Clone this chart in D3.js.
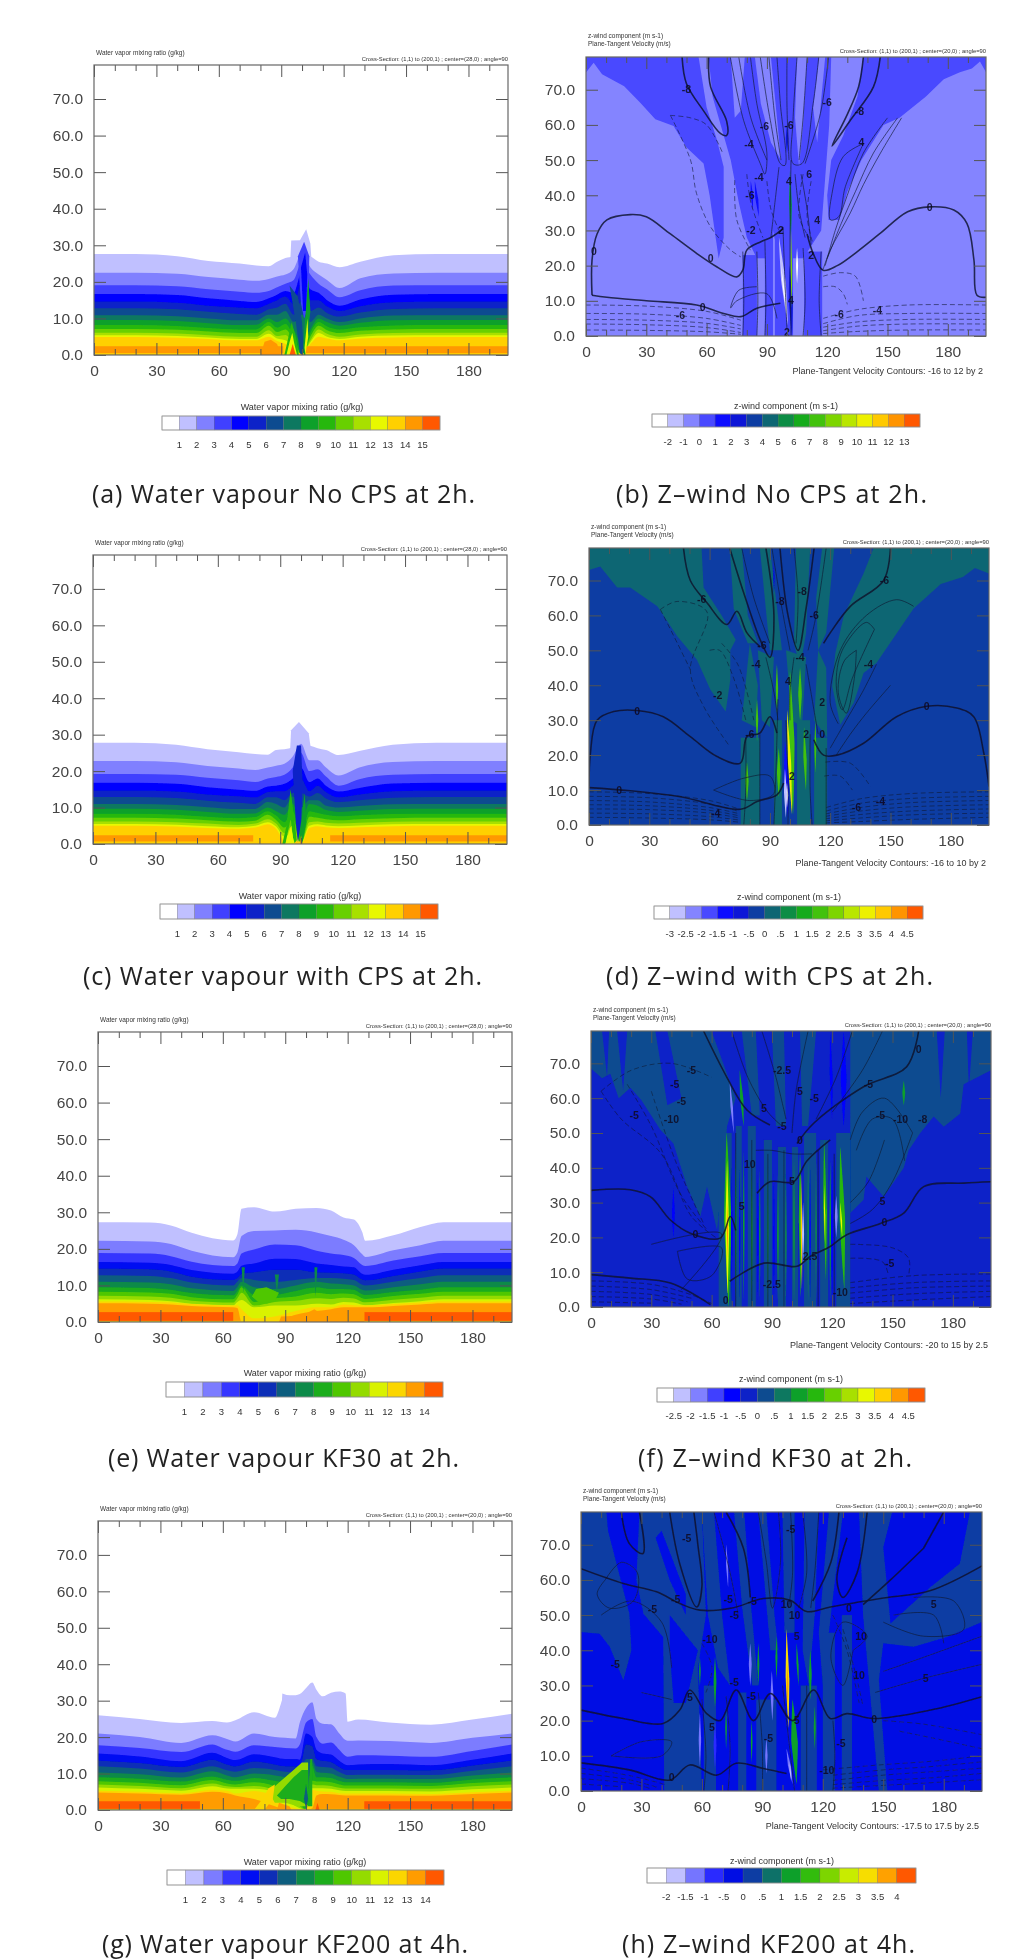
<!DOCTYPE html>
<html>
<head>
<meta charset="utf-8">
<script src="https://cdn.jsdelivr.net/npm/d3@7"></script>
<style>
  html, body { margin: 0; padding: 0; background: #fff; }
  text { font-family: "Liberation Sans", Arial, sans-serif; }
  .caption { font-family: "Open Sans", "Noto Sans", sans-serif; font-size: 25px; fill: #222; }
</style>
</head>
<body>
<div id="chart"></div>
<script>
// colour ramp anchors, first cell of every bar is white
var rampColors = ["#c0c0ff","#8080ff","#4040ff","#0000ff","#0a20c8","#084c90","#0a7860","#0aa02c","#28b810","#68d000","#a8e000","#e8f800","#ffd000","#ff9800","#ff5800"];

var xMajor = [0,30,60,90,120,150,180];
var xMinor = [10,20,40,50,70,80,100,110,130,140,160,170,190];
var yMajor = [0,10,20,30,40,50,60,70];

var ticksA = ["1","2","3","4","5","6","7","8","9","10","11","12","13","14","15"];
var ticksE = ["1","2","3","4","5","6","7","8","9","10","11","12","13","14"];
var ticksB = ["-2","-1","0","1","2","3","4","5","6","7","8","9","10","11","12","13"];
var ticksD = ["-3","-2.5","-2","-1.5","-1","-.5","0",".5","1","1.5","2","2.5","3","3.5","4","4.5"];
var ticksF = ["-2.5","-2","-1.5","-1","-.5","0",".5","1","1.5","2","2.5","3","3.5","4","4.5"];
var ticksH = ["-2","-1.5","-1","-.5","0",".5","1","1.5","2","2.5","3","3.5","4"];

// water vapour: height of each mixing ratio boundary at the stations
var stationsAC = [0,20,40,55,70,78,84,88,92,96,100,104,108,112,118,128,144,165,199];
var levelsA = [
  [27.6,27.6,27,25.7,25,24.5,24.3,25.5,26.5,27,28,27,25.5,25,24,25.5,27.3,27.6,27.6],
  [22.5,22.5,22.2,21.3,20.6,20.3,20.8,21.5,22,23.5,28,24,22,20.5,18.3,21,22.3,22.5,22.5],
  [19.1,19.1,18.8,18,17.3,17,17.5,18.5,19.5,20.5,25.5,22,19.5,18,15.8,17.7,19,19.1,19.1],
  [16.7,16.7,16.4,15.5,14.8,14.5,15.5,16.5,17.5,17,23,18,17,15,13.5,15.2,16.5,16.7,16.7],
  [14.6,14.6,14.3,13.5,13,12.8,14,15,16,14,20,15,15,13.3,12,13.3,14.4,14.6,14.6],
  [12.8,12.8,12.5,11.8,11.2,11,12.5,13,14,11,15,12,13,11.5,10.5,11.6,12.6,12.8,12.8],
  [10.9,10.9,10.6,10,9.5,9.5,11,11,12,9,11,9,11,10,9,10,10.8,10.9,10.9],
  [9.6,9.6,9.3,8.7,8.2,8.3,10,9,10,7,3,7,10,9,8,8.8,9.5,9.6,9.6],
  [8.2,8.2,7.9,7.4,7,7,9,7.5,8.5,5,0,6,9,7.8,7,7.6,8.1,8.2,8.2],
  [7.1,7.1,6.9,6.4,6,6,8,6.3,7,4,0,5,8,6.8,6,6.6,7,7.1,7.1],
  [6.1,6.1,5.9,5.4,5,5,6.8,5.2,5.5,3,0,4,7,5.8,5,5.6,6,6.1,6.1],
  [5.4,5.4,5.2,4.8,4.4,4.4,5.8,4.5,4,2,0,3.5,6,5,4.4,5,5.3,5.4,5.4],
  [4.9,4.9,4.7,4.4,4,4,5,3.8,3,1,0,3,5,4.5,4,4.5,4.8,4.9,4.9]
];
var levelsC = [
  [27.8,27.8,27.2,26,25.2,24.7,24.5,25.8,26,26.5,27.5,27,26.3,25.8,24.4,25.5,27.2,27.8,27.8],
  [22.8,22.8,22.4,21.4,20.7,20.3,21,21.5,22,24,27.5,23,23,21,18.8,21,22.5,22.8,22.8],
  [19.2,19.2,19,18.2,17.5,17,18,18.4,19,21,25,20,20.5,18.5,16,17.8,19,19.2,19.2],
  [16.8,16.8,16.5,15.6,14.9,14.6,15.8,16,16.5,18,21,17,18,16,14.4,15.4,16.6,16.8,16.8],
  [14.7,14.7,14.4,13.6,13.1,12.8,14.3,14.5,14.5,16,18,14.5,16,14.3,12.8,13.6,14.5,14.7,14.7],
  [12.9,12.9,12.6,11.9,11.3,11,12.8,12.8,12,14,14,13,14,12.5,11.5,12,12.7,12.9,12.9],
  [11,11,10.7,10.1,9.6,9.6,11.5,11,10,13,10,12,12,10.5,10,10.4,10.9,11,11],
  [9.7,9.7,9.4,8.8,8.3,8.4,10,9,8,11,6,11,10.5,9.3,8.8,9.1,9.6,9.7,9.7],
  [8.3,8.3,8,7.5,7.1,7.4,9,7.8,6,9,2,9,8.5,8,7.6,7.9,8.2,8.3,8.3],
  [7.2,7.2,7,6.5,6.1,6.4,8,6.6,4.5,7,0,7.5,7.2,6.8,6.5,6.8,7.1,7.2,7.2],
  [6.2,6.2,6,5.6,5.2,5.6,6.8,5.6,3,5,0,6,6.2,5.8,5.6,5.8,6.1,6.2,6.2],
  [5.5,5.5,5.3,4.9,4.6,5,6,4.8,2,3,0,5,5.4,5.1,4.9,5.1,5.4,5.5,5.5],
  [5,5,4.8,4.4,4.2,4.5,5.4,4.2,1,1.5,0,4.4,4.9,4.6,4.4,4.6,4.9,5,5]
];
var stationsE = [0,25,35,45,65,67,69,75,85,95,105,112,118,123,127,128.5,142,155,166,199];
var levelsE = [
  [27.3,27.2,26.4,24.4,22.3,24,31,31.4,30.2,31,31.2,30.5,28.6,28,24.6,22.2,23.7,26,27.3,27.3],
  [22.2,22,21.3,19.5,17.7,19,23.5,24.9,25,25.2,24.5,23.5,22.5,21,18.5,17.8,19.6,21,22.2,22.2],
  [18.9,18.7,18,16.5,15.3,16,18.7,19.8,21.2,21,19.5,18.7,18.3,17.5,15.6,15.3,16.8,18,18.9,18.9],
  [16.4,16.2,15.6,14.2,13.2,13.8,15.4,16,17.3,17.2,16,15.6,15.2,15,13.2,12.9,14.3,15.5,16.4,16.4],
  [14.6,14.4,13.8,12.4,11.5,12,13.2,13.6,14.3,14.3,13.6,13.5,13.3,13,11.6,11.4,12.6,13.8,14.6,14.6],
  [12.8,12.6,12,10.8,10,11,12,11.5,11,11.5,12,12,11.8,11.5,10.2,10,11,12,12.8,12.8],
  [11,10.8,10.3,9.2,8.5,9.6,11,9.5,9,10,11,10.5,10.3,10,8.8,8.6,9.5,10.3,11,11],
  [9.5,9.3,8.8,7.9,7.3,8.5,10,7.5,7.5,8.5,9.5,9,9,8.8,7.6,7.4,8.2,8.8,9.5,9.5],
  [8.3,8.1,7.7,6.8,6.2,7.5,9.5,5.5,6.5,7,8,7.6,7.8,7.6,6.5,6.3,7.1,7.7,8.3,8.3],
  [7.2,7,6.6,5.8,5.3,6.5,8,4.5,5.5,5.8,6.5,6.3,6.6,6.4,5.5,5.4,6.1,6.6,7.2,7.2],
  [6.2,6,5.7,5,4.6,5.5,6,4,4.5,4.5,5,4.8,5.5,5.3,4.7,4.6,5.2,5.7,6.2,6.2],
  [5.6,5.5,5.3,4.9,4.5,4.6,3.5,1,1.5,3,4,4,4.8,4.6,4.5,4.5,4.9,5.3,5.6,5.6],
  [5.1,5,4.8,4.4,4,3.8,0,0,0,2,3,3.5,4,4,4,4,4.4,4.8,5.1,5.1]
];
var stationsG = [0,20,40,55,62,66,75,85,90,95,97,100,103,105,108,112,116,119,120,125,140,160,180,199];
var levelsG = [
  [26,25,23.9,24.4,24,24.6,26.8,25.3,31.5,31.5,31.8,33.5,35,33,31.2,32.2,32.5,32,24.2,24.8,24,23.4,24.8,26.4],
  [21,20,18.4,20.5,19.5,18.8,21,20,19.8,19.6,24,28,29.6,25,23.7,23.5,21,19.2,19,19.1,18.9,18.4,19.8,21],
  [17.8,17,15.9,18,16.5,16,17.8,17.3,17,16.9,18,24,25,20,18.2,18.5,16.5,14.8,14.6,15,14.9,14.6,16.2,18],
  [15.5,14.7,13.4,15.7,14.3,13.7,15.3,14.5,14,14,13.8,21,20,16.5,15.5,15.2,13.5,12.4,12.3,12.5,12.6,12.3,13.8,15.5],
  [13.6,12.9,11.8,13.8,12.5,12,13.3,12.5,12,12,12,18,17.5,14,13.5,13.2,11.8,11,11,11,11,10.9,12.2,13.6],
  [12,11.4,10.3,12,10.9,10.5,11.5,11,10.5,10.2,10,14,14,12,11.8,11.6,10.4,9.7,9.6,9.7,9.7,9.6,10.8,12],
  [10.3,9.8,8.9,10.6,9.5,9,10,9.5,9,8.5,8,5,13,10.5,10.2,10,9.1,8.6,8.5,8.6,8.6,8.5,9.5,10.3],
  [9,8.6,7.8,9.2,8.3,8,8.8,8,7.5,7,6,2,12,9,9,8.8,8,7.6,7.6,7.6,7.6,7.5,8.4,9],
  [7.9,7.5,6.8,8.2,7.3,7,7.6,6.5,5,3,2,0,8,7.8,7.8,7.6,7,6.7,6.7,6.7,6.7,6.6,7.4,7.9],
  [7,6.6,6,7.3,6.5,6.3,6.6,5.5,4,2,1,0,7,6.8,6.8,6.6,6.1,5.9,5.9,5.9,5.9,5.8,6.5,7],
  [6.2,5.8,5.3,6.5,5.9,5.8,5.8,5,3,1,0.5,0,6,6,6,5.8,5.4,5.2,5.2,5.2,5.2,5.1,5.7,6.2],
  [5.3,5,4.6,5.5,5.3,4.5,5.2,3.5,1,0.5,0,0,5.5,5.3,5.1,5,4.6,4.5,4.5,4.5,4.5,4.4,4.9,5.3],
  [4.8,4.5,4.2,5,4.6,4,3,1,0,0,0,0,0.5,4,4.4,4.3,4.1,4,4,4,4,3.9,4.4,4.8]
];

// lavender crest that sits behind all bands, [cell, [x,y], ...]
var crestA = [[1,[94.2,24],[94.8,31.3],[99,31.4],[102,34.4],[104,30.5],[104.8,24]]];
var crestC = [[1,[94.6,24],[95.2,31.2],[99,33.5],[103.7,30.4],[105.2,24]]];
var crestE = [];
var crestG = [[1,[88,26],[88.6,32],[91,31.5],[94,31],[92,26]]];

// low hot layer: cell, from x, to x, top height
var hotA = [[14,0,91,2.4],[14,101,199,2.4],[13,0,199,0.5]];
var hotC = [[14,0,77,2.4],[14,114,199,2.4],[13,0,199,0.7]];
var hotE = [[14,0,65,2.7],[14,128,199,2.7],[12,0,199,0.3]];
var hotG = [[14,0,49,2.4],[14,128,199,2.4],[12,0,199,0.3]];

// [cell, [x,y], ...] patches on top of the layered bands
var patchesA = [
  [14,[80,0],[82,3.6],[85,4.2],[88,3],[90,0]],
  [9,[91.5,0],[93.5,5],[95,9],[97,5],[98.5,0],[97,0],[95,4],[93,0]],
  [12,[92.5,0],[94,3.5],[95.3,6],[96.3,3],[97.6,0],[96.6,0],[95.4,2],[94,0]],
  [15,[94,0],[95.5,3],[97,0]],
  [6,[94,19],[98,16],[100,9],[100.8,1],[100,0],[99,0.5],[97,9]],
  [3,[98,27],[101,31],[103.5,27],[103,13],[101,10],[99.5,14]],
  [4,[99.5,24],[101.5,28],[102.5,22],[102,12],[100.5,12]],
  [8,[101,6],[103,21],[104,12],[101.6,0],[100.8,0]],
  [12,[101.2,2],[102.6,10],[103,5],[101.6,0]]
];
var patchesC = [
  [9,[91,0],[93,5],[95,15],[96.5,8],[98,1],[96.5,0],[95,7],[92.5,0]],
  [12,[92.5,0],[94,3],[95.3,5],[96,2],[97,0]],
  [5,[96,20],[98,27],[100,27],[100.8,16],[100,6],[98.5,0.5],[97.5,6]],
  [8,[99.5,0],[100.8,10],[101.8,14],[102.5,6],[100.5,0]],
  [14,[99.5,0],[100,2.5],[100.6,0]]
];
var patchesE = [
  [9,[74,7],[77,5.5],[81,5],[85,5.8],[87,8],[81,9.5],[76,9]],
  [13,[87,0],[88,1.5],[98,1.8],[104,3.5],[108,2],[128,2.7],[128,0]],
  [7,[85,13],[86,8],[87,13]],
  [7,[104,15],[104.5,7],[105.5,15]],
  [7,[69,15],[69.8,8],[70.6,15]]
];
var patchesG = [
  [13,[86,0],[87,2],[92,1],[93,0]],
  [10,[82,5],[88,8],[94,11],[98,13],[101,13],[101,1],[96,1],[90,2],[85,2]],
  [8,[86,4],[90,6.5],[94,9],[98,11],[101,11],[101.5,1],[97,2.5],[92,3],[88,3]],
  [6,[99,3],[100,7],[101,3],[100,0.5]],
  [12,[75,0],[79,3],[82,6],[85,7],[84,3],[80,0]],
  [8,[101,1],[102,14],[103,14],[103,1]],
  [14,[104.5,0],[105.5,2],[106.5,0]]
];

// z-wind filled regions, [cell, [x,y], ...]
var regionsB = [
  [3,[0,74.9],[3.8,77.7],[8,74.4],[19,71],[27,66.3],[34.5,61.6],[43.6,59.7],[50,53.6],[58.5,49],[61.5,40],[64,30],[66,22],[68.5,28],[68.5,48],[65,56],[60,65],[56,79.3],[0,79.3]],
  [3,[61,79.3],[63,68],[68,58],[72,50],[76,38],[80,28],[85,22],[108,22],[117,30],[119,45],[121,60],[122,79.3]],
  [3,[120.7,33],[126,33],[130,41],[137,50],[148,60],[156,62],[169,68],[178,73],[186,75],[192,76],[196,78],[199,75],[199,79.3],[138,79.3],[135,68],[128,57],[122,50],[120,40]],
  [2,[72,79.3],[79,79.3],[77,64],[74,62]],
  [2,[84,79.3],[92,79.3],[95,62],[97,50],[92,55],[87,66]],
  [2,[105,79.3],[110,79.3],[108,60],[106,48],[104,62]],
  [2,[116,79.3],[119,79.3],[115,55],[113,65]],
  [2,[85,0],[89,0],[89,22],[85,22]],
  [2,[93,0],[94,0],[96,22],[93,30]],
  [2,[103,0],[108.5,0],[108.5,22],[103,22]]
];
var barsB = [[3,78,85,0,23],[3,89,93,0,28],[3,94,103,0,30],[3,108.5,117.5,0,24]];
var streaksB = [
  [5,101.3,20,102.5,0,1],[1,96,28,100.5,3,1.1],[0,97,20,100,6,0.35],[0,105,25,105,15,0.5],
  [8,101.5,47,102,28,0.7],[11,102,30,102.4,8,0.4],[5,100,60,100,52,0.6],[4,84,44,86,34,0.7],[4,82,44,83,36,0.6]
];
var regionsD = [
  [7,[0,73],[5.6,74],[14,68],[20.5,68],[34,62.6],[44,54],[53.7,47.3],[60.4,38.7],[68,32.5],[70.3,41.6],[70.3,50],[73,53],[66,60],[57,68],[56,79.3],[0,79.3]],
  [7,[70,79.3],[76,79.3],[79,60],[84,52],[79,52],[72,62]],
  [7,[85,79.3],[90,79.3],[94,60],[96,50],[90,50]],
  [7,[103,79.3],[110,79.3],[108,55],[105,45],[102,52]],
  [7,[116,79.3],[122,79.3],[118,55],[114,50],[113,65]],
  [7,[141.6,79.3],[136.6,72],[126.7,59.8],[122.5,49],[121,39.7],[125,28.7],[131.7,35],[136.6,43.5],[143,46.4],[161.5,62],[175,69],[186,71],[192,73.6],[199,72],[199,79.3]],
  [7,[84,50],[92,48],[90,28],[86,30]],
  [7,[98,50],[108,48],[106,28],[101,30]],
  [7,[112,30],[114,50],[118,45],[118.5,25]],
  [7,[76,30],[80,52],[84,40],[83,28]]
];
var barsD = [[7,75.5,85,0,25],[7,92,96,0,30],[7,103.5,110,0,30],[7,112,118.5,0,25]];
var streaksD = [
  [10,78.6,18,78.6,7,0.8],[10,83.6,36,83.6,24,0.6],[10,93.5,46,93.5,32,0.6],[10,94.4,22,94.4,8,0.9],
  [10,105,45,105,30,0.9],[10,107,28,108,10,0.8],[10,112.6,30,112.6,15,0.5],
  [10,100,44,101.5,3,1.5],[4,97.5,24,99,2,1.3],[13,98.5,33,101,3,0.8],[0,98.5,12,98.5,5,0.6],[1,97.5,16,98,2,0.7],
  [5,92,76,92,66,0.4]
];
var regionsF = [
  [6,[0,68.5],[5.5,65.7],[9.6,67],[13.8,60],[19.6,63],[25,59.5],[34.5,50.9],[41,47],[47.8,34.6],[54.4,26],[57.7,34.6],[62.7,22],[66,40],[67.7,52],[72,60],[60,79.3],[0,79.3]],
  [5,[5.5,79.3],[9,79.3],[8,66]],
  [5,[13,79.3],[18,79.3],[16,62]],
  [5,[32,79.3],[38,79.3],[45,60],[38,58]],
  [6,[75,79.3],[82,79.3],[84,55],[80,55]],
  [6,[90,79.3],[96,79.3],[97,52],[92,52]],
  [6,[104,79.3],[112,79.3],[108,52],[105,52]],
  [6,[129,52.8],[129,27],[135.6,30.8],[137,37.5],[145.6,31.7],[155.6,40],[158,45],[163.8,50],[170.5,54.7],[175.5,51.8],[183.7,55.6],[185.4,64],[199,68],[199,79.3],[129,79.3]],
  [5,[172,79.3],[176,79.3],[174,60]],
  [5,[187,79.3],[190,79.3],[188,62]]
];
var barsF = [[6,63.5,70,0,50],[6,72,75,0,52],[6,78,82,0,52],[6,86,90,0,48],[6,93,97,0,46],[6,100,103,0,46],[6,106,112,0,50],[6,114,118,0,48],[6,122,129,0,50]];
var streaksF = [
  [9,67.5,50,68.5,0,1.8],[12,67.7,42,68,4,0.9],[14,67.8,30,68,14,0.3],
  [9,104,45,104.5,3,0.8],[13,104.5,38,105,5,0.4],[1,105.5,30,105.5,12,0.5],
  [9,116,48,117,8,0.9],[12,116,35,116.5,18,0.3],[9,124,46,126,5,1.4],[12,124,30,125,20,0.4],[2,122,32,122,20,0.7],
  [4,125.7,79,125.7,52,1.4],[4,119,79,120,54,0.7],[2,69,65,71,50,0.6],[4,41,34,41,20,0.7],[8,155.6,65,155.6,58,0.7],[8,74,68,76,52,0.8],
  [8,72,45,72,2,0.4],[8,76,45,76,2,0.4],[8,80,40,80,2,0.4],[8,84,40,84,2,0.3],[8,88,40,88,2,0.3],[8,93,38,93,2,0.4],[8,97,38,97,2,0.3],[8,101,42,101,2,0.4],[8,108,42,108,2,0.3],[8,112,42,112,2,0.3],[8,119,42,119,2,0.4],
  [4,70,40,70,2,0.4],[4,74,40,74,2,0.4],[4,83,38,83,2,0.4],[4,91,38,91,2,0.4],[4,109,40,109,2,0.4],[4,120,42,120,2,0.6]
];
var regionsH = [
  [5,[0,79.3],[12.6,79.3],[13.4,74],[24,50.4],[25,40],[21,31.5],[14.3,41],[9.3,44.7],[0,45.2]],
  [5,[29,79.3],[27.5,60],[31,50.4],[40.8,43.8],[41.3,0],[60,0],[58,35],[62,50],[60,79.3]],
  [4,[44,50],[58,40],[52,25],[46,25],[44,40]],
  [4,[37,72],[44,60],[52,50],[52,56],[44,68],[40,74]],
  [5,[60,79.3],[66,79.3],[70,50],[74,30],[68,35],[63,50]],
  [5,[76,79.3],[81,79.3],[84,55],[88,30],[85,30],[80,52]],
  [5,[88,79.3],[92,79.3],[96,50],[98,40],[94,40]],
  [5,[100,79.3],[106,79.3],[106,45],[101,45]],
  [5,[111,79.3],[118,79.3],[116,50],[113,30],[110,40]],
  [5,[123,79.3],[130,79.3],[124,50],[120,30],[118,45]],
  [5,[152,0],[147.8,31.5],[150,42],[165,41],[181.6,43.8],[199,48],[199,79.3],[193,79.3],[188,64.6],[173.5,58],[153.6,47.6],[150,69.3],[154.4,79.3],[138,79.3],[140,50],[147.8,0]]
];
var barsH = [[5,61,67,0,30],[5,78,82,0,28],[5,87,97,0,26],[5,109,117,0,30],[5,120,126,0,45],[5,129.5,134.5,0,50]];
var streaksH = [
  [2,59,22,59,7,0.6],[3,66.5,20,66.5,6,0.7],[2,84,42,84,30,0.7],[2,72,70,73,58,0.5],[2,94.7,34,95,20,0.7],[2,92,15,92,5,0.6],
  [7,59,38,59,30,0.4],[7,66.5,38,66.5,24,0.7],[7,72,24,72,12,0.4],[7,84.7,20,84.7,8,0.4],[7,88,42,88,30,0.5],[7,97,44,97,32,0.5],
  [7,107,42,108,30,0.5],[7,113.8,40,113.8,26,0.7],[7,116,24,116,12,0.5],[7,105,26,107,2,1.6],
  [11,102,46,103,18,0.9],[12,102.5,36,102.5,24,0.4],[2,102,12,105,2,0.7],[1,103.5,8,104.3,3,0.3]
];

// contours in [x,y]; thick zero lines, thin solid lines, dashed negatives
var thickB = [
  [[3,11.6],[3,21.6],[5.5,29],[10.4,33],[22,34.5],[30,33.9],[42,29],[55,23.5],[65,19.7],[75,16.8],[78,18.7],[80,24.4],[87,26.8],[92,28],[98,30.5]],
  [[3,11.6],[10.4,11],[30,10],[55,8.8],[68.5,6.4],[77,5.5],[85,7.9],[96.7,9.3]],
  [[199,11],[194.5,11.6],[193,21.6],[189.5,32],[183,35.8],[171,36.7],[160,35.3],[146,29],[135,24],[125,20],[118,18.7],[113,23.5],[110,29]],
  [[47.8,79.3],[50,71.7],[58.5,64],[67,57.5],[70,57],[70,61],[62,70.8],[61,79.3]],
  [[146.4,79.3],[143,70.8],[131.5,61.3],[122.4,54],[130,63],[135.6,70.8],[138,79.3]]
];
var thinB = [
  [[71.8,79.3],[78.4,61.3],[86.7,49],[89,46],[90,52],[85,66],[81.8,79.3]],
  [[86.7,79.3],[91.7,61.3],[96.7,49],[99,48.5],[96.7,66],[95,79.3]],
  [[105,79.3],[103,61.3],[103,49],[107.4,49],[113,66],[115.8,79.3]],
  [[120.7,79.3],[116.6,63.2],[109,49]],
  [[76,79.3],[82,62],[90,50]],[[91,79.3],[94,62],[97,50]],[[100,79.3],[100,65],[101,50]],[[110,79.3],[108,62],[106,50]],
  [[157,62],[146.5,52],[138,43],[131.5,35],[121.5,24.4],[118,19]],
  [[155,62],[143,52],[134,41],[127,32],[120,22]],
  [[150,62],[138,52],[130,40],[124,30],[119,20]],
  [[138,54.7],[128,51],[122.4,40.5],[121.6,33],[125.7,33.9],[129,42.4],[138,54.7]],
  [[98,31],[99,15],[100,1.7]],[[102,50],[101.5,25],[102,0]],
  [[78,24],[78.5,10],[78,0]],[[85,24],[85.5,10],[85,0]],[[89,27],[89.5,10],[89,0]],[[108,25],[109,10],[108,0]],[[117,24],[116,10],[117,0]],
  [[95,5],[90,12],[75,10],[72,8],[76,13],[85,14]],
  [[96,48],[94,38],[92,28]],[[107,46],[110,36],[112,26]],[[104,46],[106,36],[109,28]]
];
var dashB = [
  [[42,62.7],[52,50],[55,40.5],[62,31],[72,24.4],[77,22.5]],
  [[42,62.7],[52,62],[60,60],[68,52]],
  [[118,17],[126.5,18],[134,17],[138,10]],[[118,14],[124,14],[128,12],[130,9]],
  [[74,44.3],[75,33],[81.8,24.4]],[[80,46],[82,38],[88,28]],[[90,44],[92,36],[96,30]],[[108,46],[106,34],[111,28]],[[112,44],[110,34],[113,26]],
  [[0,8.8],[30,8.5],[60,7],[77,4.5]],[[0,6.4],[30,6.2],[60,5],[77,3]],[[0,4.7],[30,4.5],[60,3.6],[77,2]],[[0,3.4],[30,3.2],[60,2.4],[77,1]],[[0,1.7],[30,1.6],[60,1.2],[77,0.5]],
  [[118,5],[135,7.5],[160,8.8],[199,8.8]],[[118,3.5],[135,5.8],[160,6.4],[199,6.4]],[[118,2.5],[135,4],[160,4.7],[199,4.7]],[[118,1.5],[135,2.8],[160,3.4],[199,3.4]],[[118,0.7],[135,1.3],[160,1.7],[199,1.7]]
];
var labelsB = [["0",4,24],["0",62,22],["0",171,36.5],["0",58,8.2],["-6",47,6],["-6",126,6.3],["-4",145,7.3],["-8",50,70],["-6",88.8,59.5],["-4",81,54.5],["-4",86,45],["-6",81.5,40],["-2",82,30],["2",97,30],["2",112,23],["4",115,33],["6",111,46],["4",137,55],["-8",136,64],["-6",120,66.5],["-6",101,60],["4",101,44],["4",102,10],["2",100,1]];

var thickD = [
  [[0,11],[0.7,20.6],[4,30],[12.3,32.5],[23.9,32.8],[37,31],[50.4,25.3],[63.7,19.6],[75.3,17.7],[78.6,25.3],[85,26.3],[90,31],[93.5,26.3]],
  [[0,10.7],[20.6,9.8],[45.4,8.1],[75.3,4.5],[83.6,6.7],[93.5,8.6],[96.8,12]],
  [[199,11],[196.4,20.6],[191.4,31],[183,33.5],[168,34],[153,31],[136.6,23.4],[123.4,20],[116.7,20],[111.8,24.4]],
  [[47,79.3],[50.4,70],[58.7,63.6],[68.6,57.4],[73.6,61.2],[78.6,55],[85.2,51]],
  [[150,79.3],[146.6,70],[130,62.6],[120,55],[116.7,52]],
  [[70,79.3],[77,66.4],[85.2,53],[90,48],[92,60],[88,79.3]],
  [[95,79.3],[99,60],[104,50],[108,62],[112,79.3]]
];
var thinD = [
  [[161.5,62.6],[153,64.5],[138,60],[125,50],[120,35],[124,29]],
  [[142,56],[138,58],[126,50],[123,40],[126,33],[131,42],[142,56]],
  [[133,50],[127,47],[124,38],[128,32],[132,42],[133,50]],
  [[62,10],[77,13.4],[90,14],[92,9],[80,7],[62,10]],
  [[78,25],[78,10],[77,0]],[[85,26],[85,10],[85,0]],[[94,36],[93,15],[92,0]],[[98,30],[99,12],[99,0]],[[110,26],[110,10],[111,0]],[[118,22],[118,10],[118,0]],
  [[102,79.3],[104,65],[103,52]],[[118,79.3],[113,60],[109,50]],[[76,79.3],[82,65],[90,52]],[[91,79.3],[96,62],[100,50]],
  [[123,20],[130,26],[138,32],[150,40]],[[120,22],[128,30],[136,38],[143,46]],
  [[88,48],[92,38],[94,30]],[[102,48],[100,38],[100,30]],[[108,46],[111,36],[114,26]]
];
var dashD = [
  [[35.5,61.7],[43.8,64],[58.7,61],[50.4,44.5],[57,34],[70,22.5]],
  [[35.5,61.7],[44,52],[50.4,44.5]],
  [[117.6,18],[130,17.7],[140,11]],[[117,14],[125,14],[131,10]],
  [[60,50],[65,50],[72,42],[78,30]],[[66,52],[74,46],[82,30]],
  [[0,9.5],[30,9],[60,7],[75,4.5]],[[0,8.2],[30,7.8],[60,6],[75,3.8]],[[0,7],[30,6.6],[60,5],[75,3.2]],[[0,5.8],[30,5.5],[60,4.2],[75,2.6]],[[0,4.6],[30,4.4],[60,3.4],[75,2]],[[0,3.4],[30,3.2],[60,2.4],[75,1.4]],[[0,2.2],[30,2],[60,1.5],[75,0.8]],
  [[118,5],[135,7.5],[160,9],[199,9.5]],[[118,4],[135,6.2],[160,7.6],[199,8.2]],[[118,3.2],[135,5],[160,6.4],[199,7]],[[118,2.5],[135,4],[160,5.2],[199,5.8]],[[118,1.8],[135,3],[160,4],[199,4.6]],[[118,1.2],[135,2],[160,2.9],[199,3.4]],[[118,0.6],[135,1],[160,1.6],[199,2.2]]
];
var labelsD = [["0",24,32.5],["0",15,9.8],["-4",63,3.2],["-6",133,5],["-4",145,6.8],["0",168,34],["-6",56,64.5],["-6",147,70],["-4",139,46],["-2",64,37],["-6",80,26],["-6",86,51.5],["-4",83,46],["4",99,41],["2",116,35],["2",108,26],["0",116,26],["-4",105,48],["-8",95,64],["-8",106,67],["-6",112,60],["2",101,14]];

var thickF = [
  [[0,33.5],[19.6,33.7],[29.5,31.7],[39.5,25],[49.4,21.2],[64.3,19.8],[69.3,26],[72,22]],
  [[69,7.4],[86,12.6],[102.5,11.7],[109,14.5],[119,17.4],[127,20.7],[144,24],[155.6,27],[165.5,34.6],[185.4,35.6],[199,36]],
  [[82.6,32.7],[89,36],[100.8,36],[107.5,42],[119,48]],
  [[56,79.3],[67.6,66],[77.6,56.6],[89,52.3]],
  [[163,79.3],[157,69],[135.6,63.3],[110.8,52.8],[102.5,47]],
  [[0,9.3],[19.6,8.3],[39.5,6.9],[59.4,0.7]]
];
var thinF = [
  [[70,79.3],[78,66],[88,56],[95,52]],[[85,79.3],[92,66],[97,54]],[[108,79.3],[102,62],[100,50]],[[130,79.3],[122,66],[112,54]],[[145,79.3],[135,68],[120,56]],
  [[72,50],[72,30],[72,0]],[[80,48],[80,25],[80,0]],[[88,44],[88,20],[88,0]],[[96,45],[96,20],[96,0]],[[113,45],[113,20],[113,0]],[[121,44],[121,20],[121,0]],
  [[82,45],[90,45],[100,44],[110,44]],
  [[129,48],[135,56],[146,60],[160,50]],[[132,45],[140,54],[150,54],[156,42]],[[129,24],[140,28],[150,36],[160,50]],[[129,30],[138,36],[146,48]],
  [[43,16],[65,17],[60,9],[48,8],[43,16]],[[30,18],[65,21],[45,5]]
];
var dashF = [
  [[5,62],[20,68],[40,70],[60,66]],[[5,62],[15,54],[35,44],[50,26],[62,20]],[[18,64],[30,52],[45,32],[58,22]],[[30,62],[42,42],[56,24]],
  [[129,18],[150,17],[158,14],[158,9]],[[129,14],[145,13],[148,9]],
  [[0,7.5],[30,6.5],[50,3.5],[60,1]],[[0,6],[30,5],[50,2.5]],[[0,4.5],[30,3.6],[48,1.5]],[[0,3],[30,2.3],[45,0.8]],[[0,1.5],[30,1.1]],
  [[129,7],[160,9],[199,9.5]],[[129,5.5],[160,7],[199,7.5]],[[129,4],[160,5.5],[199,6]],[[129,2.5],[160,3.8],[199,4.5]],[[129,1],[160,2],[199,3]]
];
var labelsF = [["-5",21.5,55],["-10",40,54],["-5",41.6,64],["-5",45,59],["-5",50,68],["-5",138,64],["-5",144,55],["-10",154,54],["-8",165,54],["0",163,74],["5",145,30.4],["0",146,24.2],["-5",148.6,12.6],["-10",124,4.2],["-2.5",90,6.6],["0",67,2],["2.5",109,14.5],["5",100,36],["10",79,41],["0",52,21],["5",75,29],["-5",95,52],["0",104,48],["-5",111,60],["5",104,62],["5",86,57],["-2.5",95,68]];

var thickH = [
  [[0,63.2],[21,59],[37.5,56.6],[49,53.3],[59,51.4],[75,52],[90.5,54.7],[103.8,54.2],[112,51],[123.7,52.3],[148.6,54.7],[173.5,57],[199,64]],
  [[0,23],[21,20.6],[40.8,19.2],[49,23],[54,28.7],[62.4,22],[69,20],[77,28.7],[85.6,20],[94,27.7],[105,20],[115.4,28.7],[123.7,20.6],[132,22],[145,20.6],[173.5,23],[199,26.8]],
  [[0,8],[24,6],[44,3.1],[54,7.4],[67.3,4.5],[77,7.9],[90.5,6.4],[102,5]],
  [[20,79.3],[24,70.3],[30.8,67.5],[29,79.3]],
  [[44,79.3],[49,64.6],[57.4,52.3],[60,58],[58,70],[56,79.3]],
  [[72,79.3],[80.6,69],[84,55]],[[170,69],[153.6,60],[140,53]],[[180,79.3],[170,69]],
  [[128,79.3],[124,65],[115,54]],[[142,79.3],[137,62],[130,55],[127,60],[132,72]]
];
var thinH = [
  [[66,79.3],[74,62],[78,50]],[[88,79.3],[92,65],[95,52],[99,65],[98,79.3]],[[104,79.3],[105,62],[103,52]],[[110,79.3],[112,62],[108,52]],[[118,79.3],[116,62],[114,52]],
  [[12,60],[20,65],[28,62],[26,54],[14,52],[8,56],[12,60]],
  [[10,50],[25,54],[40,48],[45,35]],[[165,55],[185,54],[190,46],[170,44],[150,48]],[[155,50],[175,50],[180,42]],
  [[15,10],[30,14],[45,14],[40,10],[15,10]],[[30,28],[45,26]],[[146,28],[170,32],[199,36]],[[150,34],[170,38],[199,44]],[[135,40],[142,44],[130,48],[124,38],[130,30],[135,40]],
  [[60,26],[62,10],[61,0]],[[72,27],[74,12],[73,0]],[[88,28],[90,12],[90,0]],[[100,30],[103,15],[106,0]],[[112,30],[112,15],[112,0]],[[125,20],[126,10],[125,0]]
];
var dashH = [
  [[60,42],[65,35],[62,28]],[[125,50],[132,40],[138,25]],[[130,46],[136,34],[140,24]],[[150,20],[170,19],[199,16]],[[158,17],[175,15],[199,12]],
  [[0,6.5],[24,4.4],[42,1.8]],[[0,5],[24,3.2],[38,1]],[[0,3.5],[24,2.2],[34,0.8]],[[0,2],[20,1.2]],
  [[120,6],[150,7.5],[175,8.5],[199,10]],[[125,4.5],[150,6],[175,7],[199,8.3]],[[125,3],[150,4.5],[175,5.5],[199,6.5]],[[125,1.8],[150,3],[175,3.8],[199,5]],[[125,0.8],[150,1.6],[175,2.4],[199,3.2]]
];
var labelsH = [["-5",52.5,71.8],["-5",47,54.5],["-5",35.5,51.5],["-5",17,36],["-5",76,31],["5",54,26.5],["0",45,4],["5",65,18],["-5",73,54.5],["-5",85,54],["-5",76,50],["-5",104,74.3],["10",102,53],["10",106,50],["5",107,44],["-10",64,43],["-5",84.5,27],["5",107,20],["-5",93,15],["-5",129,13.5],["-10",122,6],["0",145.5,20.5],["10",138,33],["10",139,44],["0",133,52],["5",175,53],["5",171,32]];

var panels = [
  {kind:"wv", left:94,  right:508, top:65,   bottom:355,  stations:stationsAC, levels:levelsA, crest:crestA, hot:hotA, patches:patchesA, ticks:ticksA, center:"28,0",
   bar:[162,440,416,430,445,407,302], caption:"(a) Water vapour No CPS at 2h.", cap:[92,475,503]},
  {kind:"z",  left:586, right:986, top:57,   bottom:336,  base:2, regions:regionsB, bars:barsB, streaks:streaksB, thick:thickB, thin:thinB, dash:dashB, labels:labelsB, ticks:ticksB,
   note:"Plane-Tangent Velocity Contours: -16 to 12 by 2", noteOff:35, bar:[652,920,414,427,442,406,786], caption:"(b) Z\u2013wind No CPS at 2h.", cap:[616,927,503]},
  {kind:"wv", left:93,  right:507, top:555,  bottom:844,  stations:stationsAC, levels:levelsC, crest:crestC, hot:hotC, patches:patchesC, ticks:ticksA, center:"28,0",
   bar:[160,438,904,919,934,896,300], caption:"(c) Water vapour with CPS at 2h.", cap:[83,482,985]},
  {kind:"z",  left:589, right:989, top:548,  bottom:825,  base:6, regions:regionsD, bars:barsD, streaks:streaksD, thick:thickD, thin:thinD, dash:dashD, labels:labelsD, ticks:ticksD,
   note:"Plane-Tangent Velocity Contours: -16 to 10 by 2", noteOff:38, bar:[654,923,906,919,934,897,789], caption:"(d) Z\u2013wind with CPS at 2h.", cap:[606,933,985]},
  {kind:"wv", left:98,  right:512, top:1032, bottom:1322, stations:stationsE, levels:levelsE, crest:crestE, hot:hotE, patches:patchesE, ticks:ticksE, center:"28,0",
   bar:[166,443,1382,1397,1412,1373,305], caption:"(e) Water vapour KF30 at 2h.", cap:[108,459,1467]},
  {kind:"z",  left:591, right:991, top:1031, bottom:1307, base:5, regions:regionsF, bars:barsF, streaks:streaksF, thick:thickF, thin:thinF, dash:dashF, labels:labelsF, ticks:ticksF,
   note:"Plane-Tangent Velocity Contours: -20 to 15 by 2.5", noteOff:38, bar:[657,925,1388,1402,1416,1379,791], caption:"(f) Z\u2013wind KF30 at 2h.", cap:[638,912,1467]},
  {kind:"wv", left:98,  right:512, top:1521, bottom:1810, stations:stationsG, levels:levelsG, crest:crestG, hot:hotG, patches:patchesG, ticks:ticksE, center:"20,0",
   bar:[167,444,1870,1885,1900,1862,305], caption:"(g) Water vapour KF200 at 4h.", cap:[102,468,1953]},
  {kind:"z",  left:581, right:982, top:1512, bottom:1791, base:4, regions:regionsH, bars:barsH, streaks:streaksH, thick:thickH, thin:thinH, dash:dashH, labels:labelsH, ticks:ticksH,
   note:"Plane-Tangent Velocity Contours: -17.5 to 17.5 by 2.5", noteOff:35, bar:[647,916,1868,1883,1897,1861,782], caption:"(h) Z\u2013wind KF200 at 4h.", cap:[622,915,1953]}
];

var svg = d3.select("#chart").append("svg")
  .attr("width", 1023)
  .attr("height", 1959)
  .style("display", "block");

var defs = svg.append("defs");
var soften = defs.append("filter").attr("id", "soften")
  .attr("filterUnits", "userSpaceOnUse")
  .attr("x", 0).attr("y", 0).attr("width", 1023).attr("height", 1959);
soften.append("feGaussianBlur").attr("stdDeviation", 0.75);
var softenText = defs.append("filter").attr("id", "softenText")
  .attr("filterUnits", "userSpaceOnUse")
  .attr("x", 0).attr("y", 0).attr("width", 1023).attr("height", 1959);
softenText.append("feGaussianBlur").attr("stdDeviation", 0.45);

var charts = svg.append("g").attr("filter", "url(#soften)");
var captions = svg.append("g").attr("filter", "url(#softenText)");

// cell colours for a bar with n cells, cell 0 is white
function cellScale(n) {
  var ramp = d3.scaleLinear()
    .domain(rampColors.map(function (c, i){ return i / (rampColors.length - 1); }))
    .range(rampColors)
    .interpolate(d3.interpolateRgb)
    .clamp(true);
  return function (i){ return i === 0 ? "#ffffff" : ramp((i - 1) / (n - 2)); };
}

function drawAxes(g, p, x, y) {
  var h = p.bottom - p.top;
  var w = p.right - p.left;
  var axisGroups = [
    { axis: d3.axisBottom(x).tickValues(xMajor).tickSize(-12).tickPadding(10), t: [0, h] },
    { axis: d3.axisTop(x).tickValues(xMajor).tickSize(-12).tickFormat(""), t: [0, 0] },
    { axis: d3.axisBottom(x).tickValues(xMinor).tickSize(-6).tickFormat(""), t: [0, h] },
    { axis: d3.axisTop(x).tickValues(xMinor).tickSize(-6).tickFormat(""), t: [0, 0] },
    { axis: d3.axisLeft(y).tickValues(yMajor).tickSize(-12).tickPadding(0).tickFormat(d3.format(".1f")), t: [0, 0], cls: "ly" },
    { axis: d3.axisRight(y).tickValues(yMajor).tickSize(-12).tickFormat(""), t: [w, 0] }
  ];
  axisGroups.forEach(function (a){
    var ag = g.append("g")
      .attr("transform", "translate(" + a.t[0] + "," + a.t[1] + ")")
      .call(a.axis);
    ag.select(".domain").remove();
    ag.selectAll("line").attr("stroke", "#555").attr("stroke-width", 1);
    ag.selectAll("text")
      .attr("fill", "#444")
      .style("font-size", "15.5px");
    if (a.cls === "ly") ag.selectAll("text").attr("x", -11);
  });
  g.append("rect")
    .attr("width", w).attr("height", h)
    .attr("fill", "none").attr("stroke", "#666").attr("stroke-width", 1.2);
}

function polygon(g, d, x, y, color) {
  var pts = d.slice(1);
  g.append("path")
    .attr("d", d3.line().x(function (q){ return x(q[0]); }).y(function (q){ return y(q[1]); })(pts) + "Z")
    .attr("fill", color(d[0]));
}

function drawWater(g, p, x, y, color) {
  p.crest.forEach(function (d){ polygon(g, d, x, y, color); });
  p.levels.forEach(function (tops, i){
    var area = d3.area()
      .x(function (s){ return x(s); })
      .y0(y(0))
      .y1(function (s, k){ return y(tops[k]); })
      .curve(d3.curveMonotoneX);
    g.append("path").attr("d", area(p.stations)).attr("fill", color(i + 1));
  });
  p.hot.forEach(function (b){
    g.append("rect")
      .attr("x", x(b[1])).attr("width", x(b[2]) - x(b[1]))
      .attr("y", y(b[3])).attr("height", y(0) - y(b[3]))
      .attr("fill", color(b[0]));
  });
  p.patches.forEach(function (d){ polygon(g, d, x, y, color); });
}

function drawWind(g, p, x, y, color) {
  g.append("rect")
    .attr("width", p.right - p.left).attr("height", p.bottom - p.top)
    .attr("fill", color(p.base));
  p.regions.forEach(function (d){ polygon(g, d, x, y, color); });
  p.bars.forEach(function (b){
    g.append("rect")
      .attr("x", x(b[1])).attr("width", x(b[2]) - x(b[1]))
      .attr("y", y(b[4])).attr("height", y(b[3]) - y(b[4]))
      .attr("fill", color(b[0]));
  });
  // thin lens shaped updraft streaks
  var lens = d3.line().curve(d3.curveCardinalClosed.tension(0.7));
  p.streaks.forEach(function (s){
    var midX = (s[1] + s[3]) / 2, midY = (s[2] + s[4]) / 2;
    g.append("path")
      .attr("d", lens([
        [x(s[1]), y(s[2])],
        [x(midX + s[5]), y(midY)],
        [x(s[3]), y(s[4])],
        [x(midX - s[5]), y(midY)]
      ]))
      .attr("fill", color(s[0]));
  });
  var contour = d3.line()
    .x(function (q){ return x(q[0]); })
    .y(function (q){ return y(q[1]); })
    .curve(d3.curveCatmullRom.alpha(0.5));
  p.dash.forEach(function (l){
    g.append("path").attr("d", contour(l)).attr("fill", "none")
      .attr("stroke", "#111a33").attr("stroke-width", 0.9).attr("stroke-dasharray", "5,3").attr("opacity", 0.65);
  });
  p.thin.forEach(function (l){
    g.append("path").attr("d", contour(l)).attr("fill", "none")
      .attr("stroke", "#111a33").attr("stroke-width", 1).attr("opacity", 0.65);
  });
  p.thick.forEach(function (l){
    g.append("path").attr("d", contour(l)).attr("fill", "none")
      .attr("stroke", "#0a1028").attr("stroke-width", 1.6).attr("opacity", 0.8);
  });
  p.labels.forEach(function (l){
    g.append("text")
      .attr("x", x(l[1])).attr("y", y(l[2]))
      .attr("dy", "0.35em").attr("text-anchor", "middle")
      .attr("fill", "#0a0a20").attr("opacity", 0.85)
      .style("font-size", "10.5px").style("font-weight", "bold")
      .text(l[0]);
  });
}

function drawLegend(p, color) {
  var b = p.bar;
  var n = p.ticks.length + 1;
  var cx = d3.scaleLinear().domain([0, n]).range([b[0], b[1]]);
  var lg = charts.append("g");
  lg.selectAll("rect.cell").data(d3.range(n)).enter().append("rect")
    .attr("class", "cell")
    .attr("x", function (i){ return cx(i); })
    .attr("width", function (i){ return cx(i + 1) - cx(i); })
    .attr("y", b[2]).attr("height", b[3] - b[2])
    .attr("fill", function (i){ return color(i); })
    .attr("stroke", "#555").attr("stroke-width", 0.25);
  lg.append("rect")
    .attr("x", b[0]).attr("y", b[2]).attr("width", b[1] - b[0]).attr("height", b[3] - b[2])
    .attr("fill", "none").attr("stroke", "#999").attr("stroke-width", 0.8);
  lg.selectAll("text.tl").data(p.ticks).enter().append("text")
    .attr("class", "tl")
    .attr("x", function (d, i){ return cx(i + 1); })
    .attr("y", b[4]).attr("dy", "0.35em").attr("text-anchor", "middle")
    .attr("fill", "#333").style("font-size", "9.5px")
    .text(function (d){ return d; });
  lg.append("text")
    .attr("x", b[6]).attr("y", b[5]).attr("dy", "0.35em").attr("text-anchor", "middle")
    .attr("fill", "#333").style("font-size", "9px")
    .text(p.kind === "wv" ? "Water vapor mixing ratio   (g/kg)" : "z-wind component   (m s-1)");
}

panels.forEach(function (p, idx){
  var x = d3.scaleLinear().domain([0, 199]).range([0, p.right - p.left]);
  var y = d3.scaleLinear().domain([0, 79.3]).range([p.bottom - p.top, 0]);
  var color = cellScale(p.ticks.length + 1);

  var g = charts.append("g").attr("transform", "translate(" + p.left + "," + p.top + ")");
  defs.append("clipPath").attr("id", "clip" + idx).append("rect")
    .attr("width", p.right - p.left).attr("height", p.bottom - p.top);
  var plot = g.append("g").attr("clip-path", "url(#clip" + idx + ")");

  if (p.kind === "wv") drawWater(plot, p, x, y, color);
  else drawWind(plot, p, x, y, color);
  drawAxes(g, p, x, y);

  // small header texts
  var headers = p.kind === "wv"
    ? [["Water vapor mixing ratio   (g/kg)", -12]]
    : [["z-wind component   (m s-1)", -21], ["Plane-Tangent Velocity   (m/s)", -13]];
  headers.forEach(function (h){
    g.append("text").attr("x", 2).attr("y", h[1]).attr("dy", "0.35em")
      .attr("fill", "#333").style("font-size", "6.5px").text(h[0]);
  });
  g.append("text").attr("x", p.right - p.left).attr("y", -4).attr("text-anchor", "end")
    .attr("fill", "#333").style("font-size", "5.8px")
    .text("Cross-Section: (1,1) to (200,1) ; center=(" + (p.center || "20,0") + ") ; angle=90");
  if (p.note) {
    g.append("text").attr("x", p.right - p.left - 3).attr("y", p.bottom - p.top + p.noteOff)
      .attr("dy", "0.35em").attr("text-anchor", "end")
      .attr("fill", "#333").style("font-size", "9px").text(p.note);
  }

  drawLegend(p, color);

  captions.append("text")
    .attr("class", "caption")
    .attr("x", p.cap[0]).attr("y", p.cap[2])
    .attr("textLength", p.cap[1] - p.cap[0])
    .attr("lengthAdjust", "spacing")
    .text(p.caption);
});
</script>
</body>
</html>
